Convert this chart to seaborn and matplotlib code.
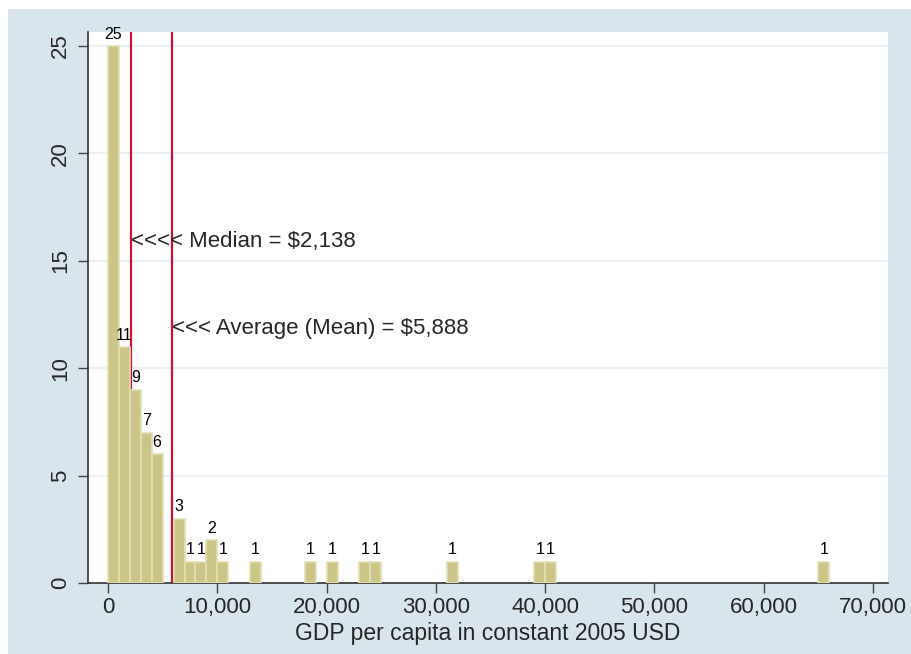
import numpy as np
import pandas as pd
import matplotlib
matplotlib.use("Agg")
import matplotlib.pyplot as plt
import seaborn as sns
from matplotlib.patches import Rectangle
from matplotlib.ticker import FuncFormatter

# ---- data (bins of 1,000 USD; bin start -> number of countries) ----
bin_starts = [0, 1000, 2000, 3000, 4000, 6000, 7000, 8000, 9000, 10000,
              13000, 18000, 20000, 23000, 24000, 31000, 39000, 40000, 65000]
counts = [25, 11, 9, 7, 6, 3, 1, 1, 2, 1,
          1, 1, 1, 1, 1, 1, 1, 1, 1]
median_val = 2138
mean_val = 5888
median_label = "<<<< Median = $2,138"
mean_label = "<<< Average (Mean) = $5,888"
x_ticks = [0, 10000, 20000, 30000, 40000, 50000, 60000, 70000]
y_ticks = [0, 5, 10, 15, 20, 25]
x_label = "GDP per capita in constant 2005 USD"
title_text = "Figure 1: Average vs median GDP per head"

bin_width = 1000
df = pd.DataFrame({"gdp": [b + bin_width / 2 for b in bin_starts], "n": counts})

sns.set_theme(style="white")
plt.rcParams["font.family"] = ["Liberation Sans", "DejaVu Sans"]

bg = "#d9e5ec"
fig = plt.figure(figsize=(9.12, 6.54), dpi=100, facecolor=bg)
# white margins outside the light panel
fig.add_artist(Rectangle((0, (654 - 9) / 654), 1, 9 / 654, transform=fig.transFigure,
                         facecolor="white", edgecolor="none", zorder=0))
fig.add_artist(Rectangle((0, 0), 8 / 912, 1, transform=fig.transFigure,
                         facecolor="white", edgecolor="none", zorder=0))

ax = fig.add_axes([88 / 912, (654 - 583) / 654, 800 / 912, (583 - 32) / 654])
ax.set_facecolor("white")

sns.histplot(data=df, x="gdp", weights="n", binwidth=bin_width, binrange=(0, 66000), ax=ax,
             color="#cbc688", edgecolor="#e2dfb4", linewidth=1.2, alpha=1, zorder=3)

# hide empty bins
for p in ax.patches:
    if p.get_height() == 0:
        p.set_visible(False)

labels = [str(int(p.get_height())) if p.get_height() > 0 else "" for p in ax.containers[0]]
ax.bar_label(ax.containers[0], labels=labels, padding=3, fontsize=11.5, color="black")

ax.set_xlim(-1830, 71370)
ax.set_ylim(0, 25.65)

for yv in y_ticks[1:]:
    ax.axhline(yv, color="#eaf0f3", linewidth=1.6, zorder=1)

red = "#d0103a"
ax.axvline(median_val, color=red, linewidth=1.6, zorder=2)
ax.axvline(mean_val, color=red, linewidth=1.6, zorder=2)
ax.text(median_val, 15.9, median_label, fontsize=16, va="center", ha="left", zorder=4)
ax.text(mean_val, 11.85, mean_label, fontsize=16, va="center", ha="left", zorder=4)

ax.set_xticks(x_ticks)
ax.set_yticks(y_ticks)
ax.xaxis.set_major_formatter(FuncFormatter(lambda v, _: f"{int(v):,}"))
ax.tick_params(axis="x", direction="out", length=7, width=1, color="#444444",
               labelsize=16, pad=3, bottom=True)
ax.tick_params(axis="y", direction="out", length=7, width=1, color="#444444",
               labelsize=16, pad=5, left=True, labelrotation=90)
for lbl in ax.get_yticklabels():
    lbl.set_va("center")
ax.set_xlabel(x_label, fontsize=16.5, labelpad=3)
ax.set_ylabel("")

for s in ["top", "right"]:
    ax.spines[s].set_visible(False)
for s in ["left", "bottom"]:
    ax.spines[s].set_color("#333333")
    ax.spines[s].set_linewidth(1.2)

fig.text(90 / 912, 1.0 + 4.5 / 654, title_text, fontsize=18, fontweight="bold",
         family=["Liberation Serif", "DejaVu Serif"], color="#b8860b",
         ha="left", va="baseline", zorder=5)

fig.savefig("out.png", dpi=100, facecolor=bg)
